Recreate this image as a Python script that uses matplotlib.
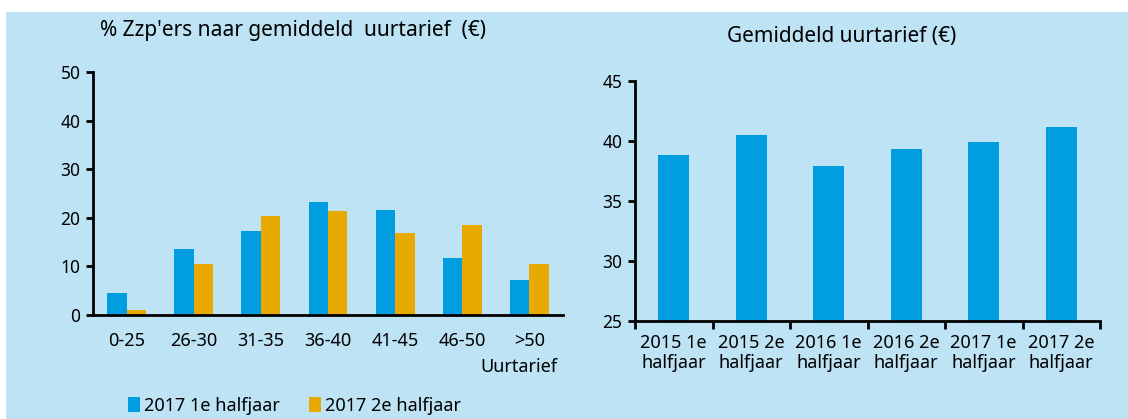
import numpy as np
import matplotlib.pyplot as plt
from matplotlib.patches import Rectangle

# linker grafiek: % zzp'ers naar uurtarief
klassen = ["0-25", "26-30", "31-35", "36-40", "41-45", "46-50", ">50"]
h1_2017 = [4.5, 13.5, 17.2, 23.3, 21.7, 11.8, 7.3]
h2_2017 = [1.0, 10.5, 20.3, 21.4, 16.9, 18.5, 10.5]

# rechter grafiek: gemiddeld uurtarief
perioden = ["2015 1e\nhalfjaar", "2015 2e\nhalfjaar", "2016 1e\nhalfjaar",
            "2016 2e\nhalfjaar", "2017 1e\nhalfjaar", "2017 2e\nhalfjaar"]
tarief = [38.8, 40.5, 37.95, 39.35, 39.9, 41.2]

BG = "#bde3f5"
BLAUW = "#009ee0"
ORANJE = "#e8aa00"

plt.rcParams["font.family"] = ["Noto Sans", "DejaVu Sans"]

W, H = 1128, 419
fig = plt.figure(figsize=(W / 100, H / 100), dpi=100)
fig.patch.set_facecolor("white")
# lichtblauwe achtergrond
fig.patches.append(Rectangle((6 / W, 0), 1 - 6 / W, 1 - 12 / H,
                             transform=fig.transFigure, facecolor=BG,
                             edgecolor="none", zorder=-10))


def style_axes(ax):
    ax.set_facecolor("none")
    for s in ["top", "right"]:
        ax.spines[s].set_visible(False)
    for s in ["left", "bottom"]:
        ax.spines[s].set_linewidth(2)
        ax.spines[s].set_color("black")
    ax.tick_params(axis="y", direction="out", length=5, width=2,
                   labelsize=12.5, pad=4)


# --- links ---
ax1 = fig.add_axes([93 / W, 1 - 315 / H, (563 - 93) / W, (315 - 72) / H])
style_axes(ax1)
x = np.arange(len(klassen))
bw = 0.29
ax1.bar(x - bw / 2, h1_2017, bw, color=BLAUW, label="2017 1e halfjaar")
ax1.bar(x + bw / 2, h2_2017, bw, color=ORANJE, label="2017 2e halfjaar")
ax1.set_xlim(-0.5, len(klassen) - 0.5)
ax1.set_ylim(0, 50)
ax1.set_yticks([0, 10, 20, 30, 40, 50])
ax1.set_xticks(x)
ax1.set_xticklabels(klassen)
ax1.tick_params(axis="x", length=0, labelsize=13, pad=12)
ax1.text((557 - 93) / (563 - 93), -0.175, "Uurtarief", transform=ax1.transAxes,
         ha="right", va="top", fontsize=13)
ax1.set_title("% Zzp'ers naar gemiddeld  uurtarief  (€)", fontsize=15,
              pad=26, x=0.425)
ax1.legend(loc="upper left", bbox_to_anchor=(0.039, -0.27),
           ncol=2, frameon=False, fontsize=13, handlelength=0.7,
           handleheight=0.9, handletextpad=0.2, columnspacing=1.6)

# --- rechts ---
ax2 = fig.add_axes([635 / W, 1 - 321 / H, (1100 - 635) / W, (321 - 81) / H])
style_axes(ax2)
x2 = np.arange(len(perioden))
ax2.bar(x2, tarief, 0.4, color=BLAUW)
ax2.set_xlim(-0.5, len(perioden) - 0.5)
ax2.set_ylim(25, 45)
ax2.set_yticks([25, 30, 35, 40, 45])
ax2.set_xticks(x2)
ax2.set_xticklabels(perioden, linespacing=1.2)
ax2.tick_params(axis="x", length=0, labelsize=13, pad=9)
ax2.set_xticks(np.arange(-0.5, len(perioden)), minor=True)
ax2.tick_params(axis="x", which="minor", direction="out", length=6, width=2)
ax2.set_title("Gemiddeld uurtarief (€)", fontsize=15, pad=28,
              x=(842 - 635) / (1100 - 635))

fig.savefig("out.png", dpi=100, facecolor=fig.get_facecolor())
